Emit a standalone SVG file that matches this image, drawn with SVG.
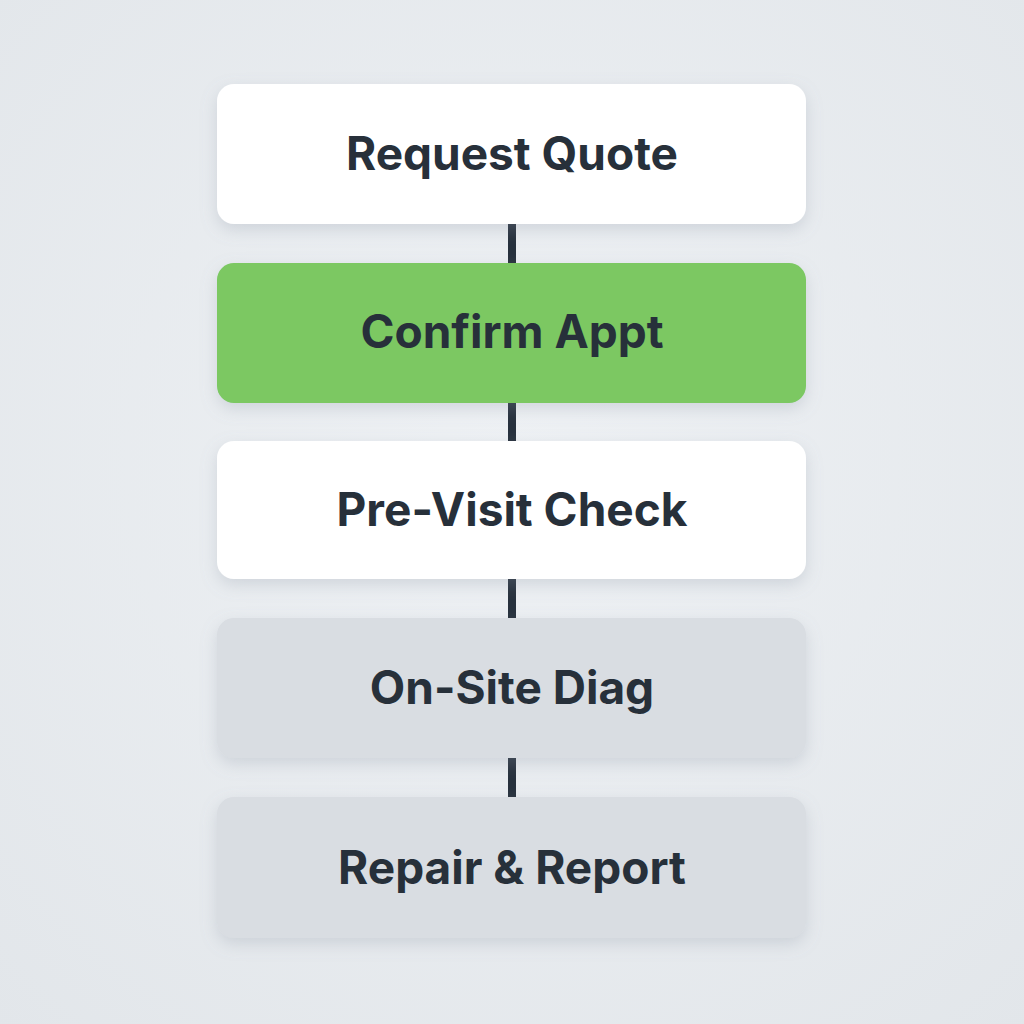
<svg xmlns="http://www.w3.org/2000/svg" width="1024" height="1024" viewBox="0 0 1024 1024">
<defs>
<radialGradient id="bg" cx="50%" cy="45%" r="75%">
<stop offset="0" stop-color="#eef1f4"/>
<stop offset="1" stop-color="#e2e6ea"/>
</radialGradient>
<filter id="sh" x="-10%" y="-20%" width="120%" height="150%">
<feDropShadow dx="0" dy="6" stdDeviation="8" flood-color="#8a95a3" flood-opacity="0.28"/>
</filter>
</defs>
<style>
.box{filter:url(#sh)}
.white{fill:#ffffff}
.green{fill:#7bc862}
.gray{fill:#d9dde2}
.lbl{font-family:Inter,"Liberation Sans",sans-serif;font-weight:700;font-size:46px;fill:#27303a;text-anchor:middle}
.conn{stroke:#27313d;stroke-width:8;fill:none}
</style>
<rect width="1024" height="1024" fill="url(#bg)"/>
<g id="connectors">
<line class="conn" x1="512" y1="224" x2="512" y2="264"/>
<line class="conn" x1="512" y1="403" x2="512" y2="441"/>
<line class="conn" x1="512" y1="579" x2="512" y2="618"/>
<line class="conn" x1="512" y1="758" x2="512" y2="797"/>
</g>
<g id="node-request-quote">
<rect class="box white" x="217" y="84" width="589" height="140" rx="17"/>
<text class="lbl" x="512" y="170">Request Quote</text>
</g>
<g id="node-confirm-appt">
<rect class="box green" x="217" y="263" width="589" height="140" rx="17"/>
<text class="lbl" x="512" y="348">Confirm Appt</text>
</g>
<g id="node-pre-visit-check">
<rect class="box white" x="217" y="441" width="589" height="138" rx="17"/>
<text class="lbl" x="512" y="526">Pre-Visit Check</text>
</g>
<g id="node-on-site-diag">
<rect class="box gray" x="217" y="618" width="589" height="140" rx="17"/>
<text class="lbl" x="512" y="704">On-Site Diag</text>
</g>
<g id="node-repair-report">
<rect class="box gray" x="217" y="797" width="589" height="141" rx="17"/>
<text class="lbl" x="512" y="884">Repair &amp; Report</text>
</g>
</svg>
